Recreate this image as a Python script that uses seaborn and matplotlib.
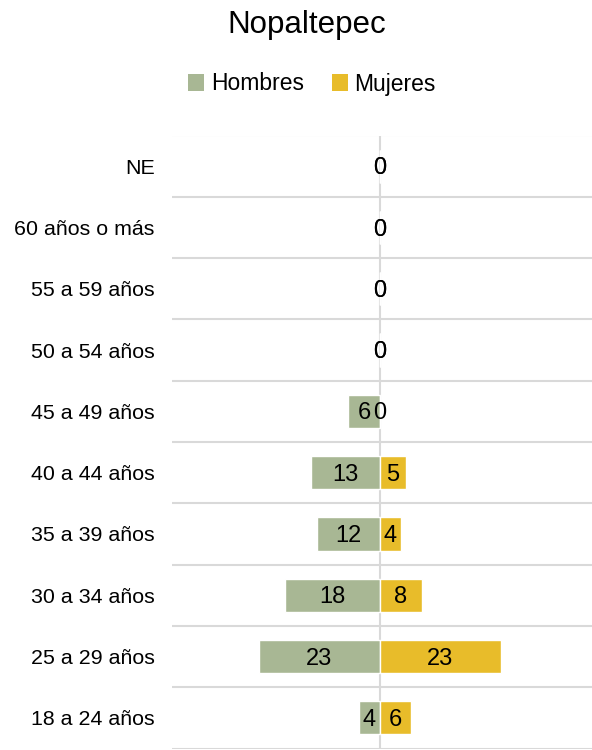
import matplotlib
matplotlib.use("Agg")
import matplotlib.pyplot as plt
import seaborn as sns
import numpy as np
import pandas as pd
from matplotlib.patches import Patch

categories = ["NE", "60 años o más", "55 a 59 años", "50 a 54 años", "45 a 49 años",
              "40 a 44 años", "35 a 39 años", "30 a 34 años", "25 a 29 años", "18 a 24 años"]
hombres = [0, 0, 0, 0, 6, 13, 12, 18, 23, 4]
mujeres = [0, 0, 0, 0, 0, 5, 4, 8, 23, 6]

c_h = "#A8B794"
c_m = "#E8BC2A"
grid_c = "#D9D9D9"

sns.set_theme(style="white")
plt.rcParams["font.family"] = ["Liberation Sans", "DejaVu Sans"]
plt.rcParams["text.color"] = "black"

df = pd.DataFrame({"cat": categories,
                   "h": -np.array(hombres, dtype=float),
                   "m": np.array(mujeres, dtype=float)})

fig = plt.figure(figsize=(5.92, 7.5), dpi=100)
ax = fig.add_axes([172/592, 1 - 748.5/750, 1 - 172/592, (748.5 - 135.5)/750])

sns.barplot(data=df, x="h", y="cat", orient="h", color=c_h, width=0.54,
            saturation=1, ax=ax, order=categories)
sns.barplot(data=df, x="m", y="cat", orient="h", color=c_m, width=0.54,
            saturation=1, ax=ax, order=categories)

ax.set_xlim(-39.5, 40.3)
ax.set_ylim(len(categories) - 0.5, -0.5)

anns = []
anns += ax.bar_label(ax.containers[0], labels=[str(v) for v in hombres], label_type="center",
                     fontsize=17, color="black")
anns += ax.bar_label(ax.containers[1], labels=[str(v) for v in mujeres], label_type="center",
                     fontsize=17, color="black")
for a in anns:
    a.xyann = (0, -1.5)

for yb in np.arange(-0.5, len(categories), 1.0):
    ax.axhline(yb, color=grid_c, lw=1.5, zorder=0)
ax.axvline(0, color=grid_c, lw=1.5, zorder=0.5)

for s in ax.spines.values():
    s.set_visible(False)
ax.set_xticks([])
ax.set_xlabel("")
ax.set_ylabel("")
ax.tick_params(axis="y", length=0, pad=12.5, labelsize=15.4, labelcolor="black")

fig.text(307/592, 1 - 25/750, "Nopaltepec", ha="center", va="center", fontsize=22.5,
         color="black")

handles = [Patch(facecolor=c_h, edgecolor="none"), Patch(facecolor=c_m, edgecolor="none")]
leg = fig.legend(handles, ["Hombres", "Mujeres"], loc="center",
                 bbox_to_anchor=(312/592, 1 - 84/750),
                 ncol=2, frameon=False, fontsize=16.5, handlelength=0.7, handleheight=0.7,
                 handletextpad=0.3, columnspacing=1.2, borderaxespad=0)
for t in leg.get_texts():
    t.set_color("black")

fig.savefig("out.png", dpi=100)
